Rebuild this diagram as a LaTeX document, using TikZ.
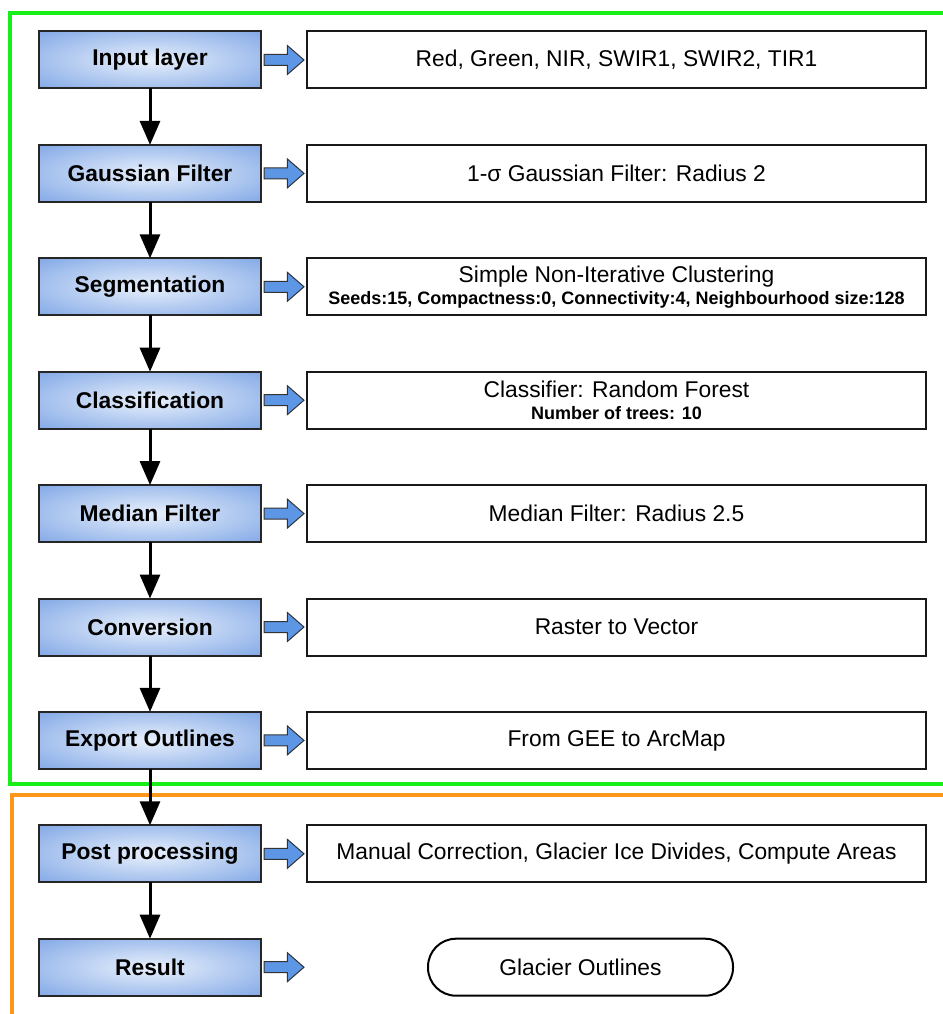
\documentclass[tikz,border=0pt]{standalone}
\usepackage{fontspec}
\setmainfont{Liberation Sans}
\usetikzlibrary{arrows.meta,positioning,shapes.arrows}
\definecolor{boxblue}{RGB}{84,136,220}
\definecolor{boxlight}{RGB}{232,240,252}
\definecolor{arrowblue}{RGB}{92,150,228}
\definecolor{framegreen}{RGB}{24,238,24}
\definecolor{frameorange}{RGB}{255,152,24}
\pgfdeclareradialshading{boxglow}{\pgfpoint{0bp}{0bp}}{color(0bp)=(boxlight); color(52bp)=(boxblue); color(75bp)=(boxblue)}
\newcommand{\detail}[1]{{\fontsize{18}{20}\selectfont\bfseries #1}}

\begin{document}
\begin{tikzpicture}[x=1pt, y=-1pt, node distance=56.4pt and 46pt,
	StepBox/.style={draw=black!85, line width=2pt, shading=boxglow, minimum width=222pt, minimum height=57pt, inner sep=0pt, outer sep=0pt, font=\fontsize{22.8}{25}\selectfont\bfseries},
	InfoBox/.style={draw=black!90, line width=2pt, fill=white, minimum width=619pt, minimum height=57pt, inner sep=0pt, outer sep=0pt, align=center, font=\fontsize{22.8}{25}\selectfont},
	BlockArrow/.style={single arrow, draw=black!80, line width=1pt, fill=arrowblue, minimum height=40pt, minimum width=0pt, single arrow head extend=9pt, single arrow tip angle=82, inner xsep=0pt, inner ysep=5pt, outer sep=0pt},
	FlowArrow/.style={line width=3pt, -{Triangle[length=24pt, width=20pt]}},
	Frame/.style={line width=4pt}]
	\useasboundingbox (0,0) rectangle (942,1014);
	% frames
	\draw[Frame, framegreen] (950,13) -- (10,13) -- (10,784) -- (950,784);
	\draw[Frame, frameorange] (950,795) -- (12,795) -- (12,1020);
	% processing steps
	\node[StepBox] (input) at (150,60) {Input layer};
	\node[StepBox, below=of input] (gauss) {Gaussian Filter};
	\node[StepBox, below=of gauss] (segment) {Segmentation};
	\node[StepBox, below=of segment] (classify) {Classification};
	\node[StepBox, below=of classify] (median) {Median Filter};
	\node[StepBox, below=of median] (convert) {Conversion};
	\node[StepBox, below=of convert] (export) {Export Outlines};
	\node[StepBox, below=of export] (post) {Post processing};
	\node[StepBox, below=of post] (result) {Result};
	% settings
	\node[InfoBox, right=of input] (inputinfo) {Red, Green, NIR, SWIR1, SWIR2, TIR1};
	\node[InfoBox, right=of gauss] (gaussinfo) {1-σ Gaussian Filter: Radius 2};
	\node[InfoBox, right=of segment] (segmentinfo) {Simple Non-Iterative Clustering\\[-3pt]\detail{Seeds:15, Compactness:0, Connectivity:4, Neighbourhood size:128}};
	\node[InfoBox, right=of classify] (classifyinfo) {Classifier: Random Forest\\[-3pt]\detail{Number of trees: 10}};
	\node[InfoBox, right=of median] (medianinfo) {Median Filter: Radius 2.5};
	\node[InfoBox, right=of convert] (convertinfo) {Raster to Vector};
	\node[InfoBox, right=of export] (exportinfo) {From GEE to ArcMap};
	\node[InfoBox, right=of post] (postinfo) {Manual Correction, Glacier Ice Divides, Compute Areas};
	% block arrows
	\node[BlockArrow, right=3pt of input] (inputarr) {};
	\node[BlockArrow, right=3pt of gauss] (gaussarr) {};
	\node[BlockArrow, right=3pt of segment] (segmentarr) {};
	\node[BlockArrow, right=3pt of classify] (classifyarr) {};
	\node[BlockArrow, right=3pt of median] (medianarr) {};
	\node[BlockArrow, right=3pt of convert] (convertarr) {};
	\node[BlockArrow, right=3pt of export] (exportarr) {};
	\node[BlockArrow, right=3pt of post] (postarr) {};
	\node[BlockArrow, right=3pt of result] (resultarr) {};
	\node[draw, line width=2pt, rounded corners=28pt, minimum width=305pt, minimum height=57pt, font=\fontsize{22.8}{25}\selectfont, right=123pt of resultarr] (outlines) {Glacier Outlines};
	% flow
	\draw[FlowArrow] (input) -- (gauss);
	\draw[FlowArrow] (gauss) -- (segment);
	\draw[FlowArrow] (segment) -- (classify);
	\draw[FlowArrow] (classify) -- (median);
	\draw[FlowArrow] (median) -- (convert);
	\draw[FlowArrow] (convert) -- (export);
	\draw[FlowArrow] (export) -- (post);
	\draw[FlowArrow] (post) -- (result);
\end{tikzpicture}
\end{document}
